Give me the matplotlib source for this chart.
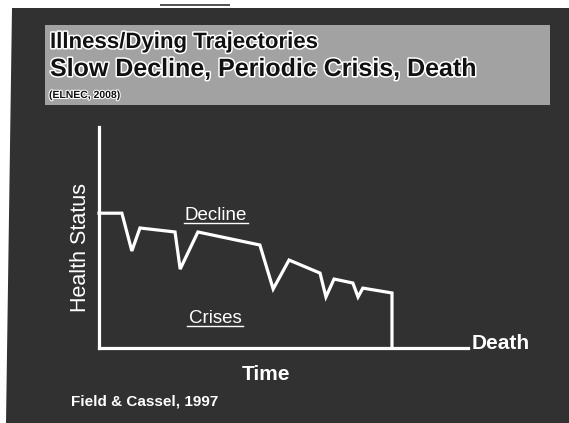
import matplotlib.pyplot as plt
import matplotlib.patheffects as pe
from matplotlib.patches import Polygon, Rectangle

plt.rcParams['font.family'] = ['Liberation Sans', 'DejaVu Sans']

# trajectory (time 0-100, health 0-100)
time = [0, 6.2, 8.9, 11.1, 20.6, 22.0, 26.8, 43.6, 47.2, 51.5, 59.9,
        61.5, 63.7, 68.8, 70.2, 71.5, 79.4, 79.4]
health = [61, 61, 43.9, 54.3, 52.5, 35.7, 52.5, 46.6, 26.7, 39.8, 33.9,
          23.1, 31.2, 29.4, 23.1, 27.1, 24.9, 0]

title_lines = ["Illness/Dying Trajectories",
               "Slow Decline, Periodic Crisis, Death",
               "(ELNEC, 2008)"]
y_label = "Health Status"
x_label = "Time"
end_label = "Death"
upper_note = "Decline"
lower_note = "Crises"
source = "Field & Cassel, 1997"

W, H = 569, 423
fig = plt.figure(figsize=(W / 100, H / 100), dpi=100)
fig.patch.set_facecolor('white')

# slide background, drawn in pixel coordinates
bg = fig.add_axes([0, 0, 1, 1])
bg.set_xlim(0, W)
bg.set_ylim(H, 0)
bg.axis('off')
bg.add_patch(Polygon([(12, 8), (W, 8), (W, H), (6, H)], closed=True,
                     facecolor='#313131', edgecolor='none'))
bg.add_patch(Rectangle((160, 4), 70, 2, facecolor='#555555', edgecolor='none'))
bg.add_patch(Rectangle((45, 25), 505, 80, facecolor='#a2a2a2', edgecolor='none'))

outline = [pe.withStroke(linewidth=2.2, foreground='white')]
bg.text(50, 48, title_lines[0], fontsize=16, fontweight='bold', color='#111111',
        path_effects=outline)
bg.text(50, 76, title_lines[1], fontsize=18, fontweight='bold', color='#111111',
        path_effects=outline)
bg.text(49, 98, title_lines[2], fontsize=7.5, fontweight='bold', color='#111111',
        path_effects=[pe.withStroke(linewidth=1.5, foreground='white')])

bg.text(81, 248, y_label, fontsize=15.5, color='white', rotation=90,
        ha='center', va='center')
bg.text(216, 220, upper_note, fontsize=13.5, color='white', ha='center', va='baseline')
bg.plot([184, 248], [223, 223], color='white', lw=1)
bg.text(215, 323, lower_note, fontsize=13.5, color='white', ha='center', va='baseline')
bg.plot([187, 243], [326, 326], color='white', lw=1)
bg.text(472, 349, end_label, fontsize=15, fontweight='bold', color='white', va='baseline')
bg.text(266, 380, x_label, fontsize=15, fontweight='bold', color='white',
        ha='center', va='baseline')
bg.text(71, 406, source, fontsize=11, fontweight='bold', color='white', va='baseline')

# chart area
x0, x1, y0, y1 = 99, 468, 127, 348
ax = fig.add_axes([x0 / W, (H - y1) / H, (x1 - x0) / W, (y1 - y0) / H])
ax.set_facecolor('none')
ax.set_xlim(0, 100)
ax.set_ylim(0, 100)
for s in ['top', 'right']:
    ax.spines[s].set_visible(False)
for s in ['left', 'bottom']:
    ax.spines[s].set_color('white')
    ax.spines[s].set_linewidth(2.3)
ax.set_xticks([])
ax.set_yticks([])
ax.plot(time, health, color='white', lw=2.3, clip_on=False, solid_joinstyle='miter')

fig.savefig('out.png', dpi=100)
